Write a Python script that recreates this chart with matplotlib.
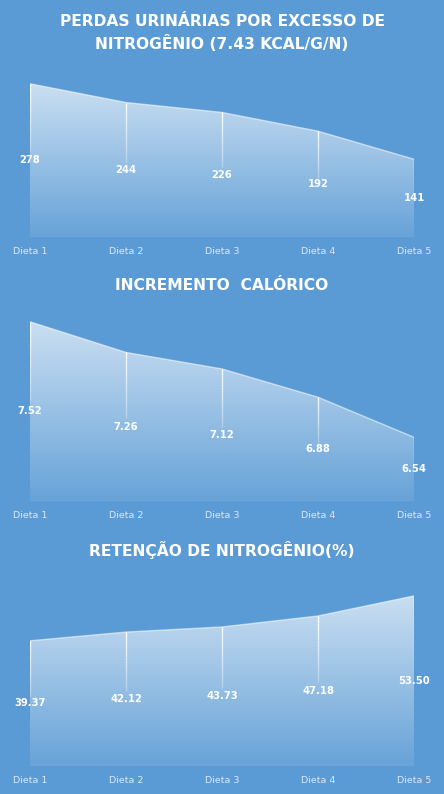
import numpy as np
import matplotlib.pyplot as plt
from matplotlib.patches import Polygon
from matplotlib.collections import LineCollection

categories = ["Dieta 1", "Dieta 2", "Dieta 3", "Dieta 4", "Dieta 5"]

perdas = [278, 244, 226, 192, 141]
perdas_labels = ["278", "244", "226", "192", "141"]

incremento = [7.52, 7.26, 7.12, 6.88, 6.54]
incremento_labels = ["7.52", "7.26", "7.12", "6.88", "6.54"]

retencao = [39.37, 42.12, 43.73, 47.18, 53.50]
retencao_labels = ["39.37", "42.12", "43.73", "47.18", "53.50"]

titles = ["PERDAS URINÁRIAS POR EXCESSO DE\nNITROGÊNIO (7.43 KCAL/G/N)",
          "INCREMENTO  CALÓRICO",
          "RETENÇÃO DE NITROGÊNIO(%)"]

BG = "#5B9BD5"
W, H = 444, 794

fig = plt.figure(figsize=(W / 100, H / 100), dpi=100, facecolor=BG)


def px_axes(left, top, right, bottom):
    # axes rectangle given in figure pixels (origin top-left)
    return fig.add_axes([left / W, 1 - bottom / H, (right - left) / W, (bottom - top) / H])


def area_panel(ax, values, labels, ylim):
    x = np.arange(len(values))
    base = ylim[0]
    ax.set_facecolor("none")
    ax.set_xlim(0, len(values) - 1)
    ax.set_ylim(*ylim)

    verts = [(x[0], base)] + list(zip(x, values)) + [(x[-1], base)]
    poly = Polygon(verts, closed=True, facecolor="none", edgecolor="none")
    ax.add_patch(poly)

    # vertical white gradient, clipped to the area
    top = max(values)
    n = 256
    grad = np.ones((n, 1, 4))
    grad[:, 0, 3] = np.linspace(0.68, 0.08, n)
    im = ax.imshow(grad, extent=[x[0], x[-1], base, top], aspect="auto",
                   origin="upper", interpolation="bilinear", zorder=1)
    im.set_clip_path(poly)

    # top edge
    ax.plot(x, values, color="white", lw=1.0, alpha=0.55, zorder=2,
            solid_capstyle="butt")
    # baseline
    ax.plot([x[0], x[-1]], [base, base], color="white", lw=1.0, alpha=0.18, zorder=2)

    # drop lines fading downwards
    for xi, v in zip(x, values):
        span = v - base
        y_end = base + span * 0.56
        ys = np.linspace(v, y_end, 20)
        segs = [[(xi, ys[i]), (xi, ys[i + 1])] for i in range(len(ys) - 1)]
        alphas = np.linspace(0.95, 0.3, len(segs))
        cols = [(1, 1, 1, a) for a in alphas]
        ax.add_collection(LineCollection(segs, colors=cols, linewidths=1.0, zorder=3))

    for xi, v, lab in zip(x, values, labels):
        ax.text(xi, base + (v - base) / 2, lab, ha="center", va="center",
                color="white", fontsize=7.2, fontweight="bold", zorder=4,
                family="DejaVu Sans")

    ax.set_xticks(x)
    ax.set_xticklabels(categories, color="#DCE8F6", fontsize=6.8)
    ax.tick_params(axis="x", length=0, pad=7)
    ax.set_yticks([])
    for s in ax.spines.values():
        s.set_visible(False)


# panel 1
ax1 = px_axes(30, 70, 414, 237)
area_panel(ax1, perdas, perdas_labels, (0, 303))
fig.text(222 / W, 1 - 33 / H, titles[0], ha="center", va="center", color="white",
         fontsize=11.2, fontweight="bold", linespacing=1.45, family="DejaVu Sans")

# panel 2
ax2 = px_axes(30, 310, 414, 501)
area_panel(ax2, incremento, incremento_labels, (6.0, 7.62))
fig.text(222 / W, 1 - 286 / H, titles[1], ha="center", va="center", color="white",
         fontsize=11.2, fontweight="bold", family="DejaVu Sans")

# panel 3
ax3 = px_axes(30, 580, 414, 766)
area_panel(ax3, retencao, retencao_labels, (0, 58.5))
fig.text(222 / W, 1 - 550 / H, titles[2], ha="center", va="center", color="white",
         fontsize=11.2, fontweight="bold", family="DejaVu Sans")

fig.savefig("out.png", dpi=100, facecolor=BG)
